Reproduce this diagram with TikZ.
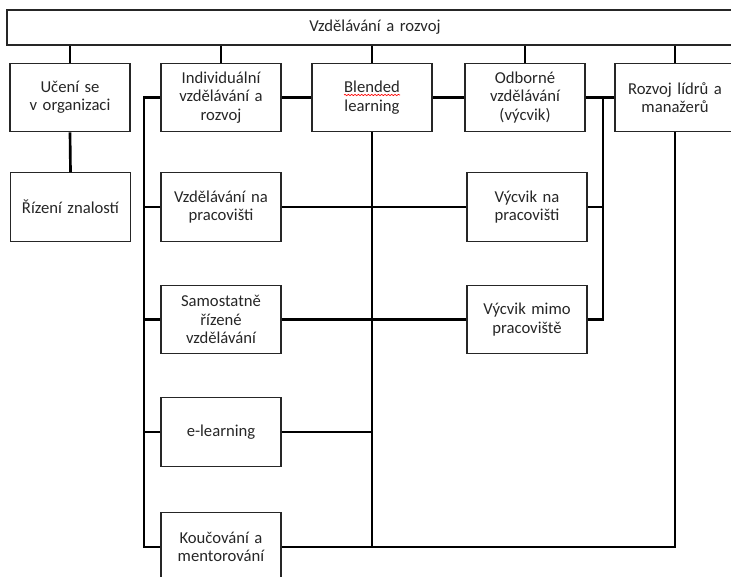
\documentclass[tikz,border=0pt]{standalone}
\usepackage{fontspec}
\setmainfont{Carlito}
\usetikzlibrary{decorations.pathmorphing}

\tikzstyle{box}=[draw=black!85, line width=0.8pt, rectangle, align=center, text=black!85, minimum width=90pt, minimum height=51.5pt, text width=86pt, inner sep=2pt, font=\fontsize{12.5pt}{13.8pt}\selectfont]
\tikzstyle{link}=[line width=2pt, black]

\begin{document}
\begin{tikzpicture}[x=0.75pt, y=-0.75pt]

\useasboundingbox (0,0) rectangle (731,577);
\clip (0,0) rectangle (731,577);

\node[box, minimum width=552pt, minimum height=26.25pt, text width=540pt] (top) at (375,27.5) {Vzdělávání a rozvoj};

% first row
\node[box] (uceni) at (70,97.5) {Učení se\\v organizaci};
\node[box] (indiv) at (221,97.5) {Individuální\\vzdělávání a\\rozvoj};
\node[box] (blended) at (372,97.5) {Blended\\learning};
\node[box] (odborne) at (525,97.5) {Odborné\\vzdělávání\\(výcvik)};
\node[box] (lidri) at (675,97.5) {Rozvoj lídrů a\\manažerů};

% lower boxes
\node[box] (rizeni) at (70.5,207) {Řízení znalostí};
\node[box] (naprac) at (221,207) {Vzdělávání na\\pracovišti};
\node[box] (samo) at (221,319.5) {Samostatně\\řízené\\vzdělávání};
\node[box] (elearn) at (221,432) {e-learning};
\node[box] (kouc) at (221,547) {Koučování a\\mentorování};
\node[box] (vycprac) at (527,207) {Výcvik na\\pracovišti};
\node[box] (vycmimo) at (527,319.5) {Výcvik mimo\\pracoviště};

\draw[red, line width=0.5pt, decorate, decoration={snake, amplitude=0.5pt, segment length=2.5pt}] (blended.center) ++(-28,-2.5) -- ++(56,0);

\coordinate (lspine) at (144,0);
\coordinate (rspine) at (603,0);

\foreach \b in {uceni,indiv,blended,odborne,lidri}{
  \draw[link] (\b.north) -- (\b.north |- top.south);
}
\draw[link] (uceni.south) -- (rizeni.north);

\draw[link] (indiv.east) -- (blended.west);
\draw[link] (blended.east) -- (odborne.west);
\draw[link] (odborne.east) -- (lidri.west);

% left spine
\draw[link] (indiv.west) -- (indiv.west -| lspine) -- (kouc.west -| lspine) -- (kouc.west);
\foreach \b in {naprac,samo,elearn}{
  \draw[link] (\b.west) -- (\b.west -| lspine);
}

% right spine
\draw[link] (odborne.east -| rspine) -- (vycmimo.east -| rspine) -- (vycmimo.east);
\draw[link] (vycprac.east) -- (vycprac.east -| rspine);

% blended learning
\draw[link] (blended.south) -- (blended.south |- kouc.east);
\draw[link] (naprac.east) -- (vycprac.west);
\draw[link] (samo.east) -- (vycmimo.west);
\draw[link] (elearn.east) -- (elearn.east -| blended.south);
\draw[link] (kouc.east) -- (kouc.east -| lidri.south) -- (lidri.south);

\end{tikzpicture}
\end{document}
